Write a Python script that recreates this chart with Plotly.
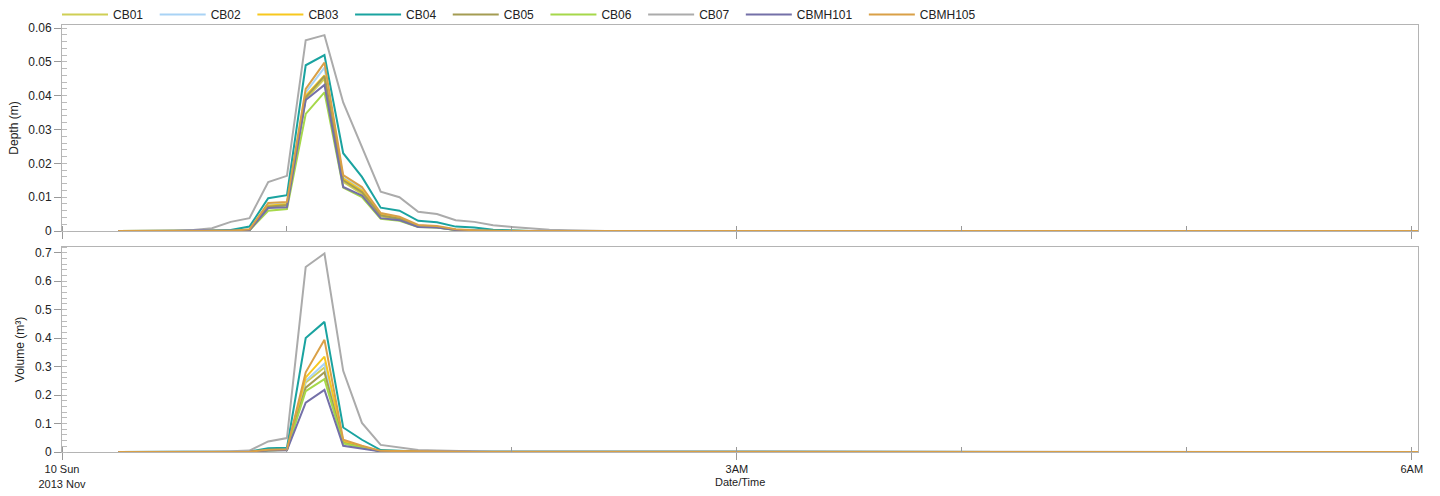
import pandas as pd
import plotly.graph_objects as go
from plotly.subplots import make_subplots

# ---- data (5-minute steps starting 2013-11-10 00:15) ----
start_time = "2013-11-10 00:15"
n_points = 71  # to 06:05

series_names = ["CB01", "CB02", "CB03", "CB04", "CB05", "CB06", "CB07", "CBMH101", "CBMH105"]
colors = ["#cfcf55", "#a9d3f5", "#f7c81e", "#1aa3a0", "#a49c52", "#a6d84a", "#ababab", "#7470a8", "#d9a047"]

# Depth (m), 00:15 .. 02:15; afterwards ~0
depth_peak = {
    "CB01":    [0, 0, 0, 0, 0, 0, 0, 0.0002, 0.0070, 0.0075, 0.0390, 0.0450, 0.0145, 0.0110, 0.0044, 0.0034, 0.0013, 0.0011, 0.0003, 0.0001, 0, 0, 0, 0, 0],
    "CB02":    [0, 0, 0, 0, 0, 0, 0, 0.0003, 0.0078, 0.0082, 0.0410, 0.0483, 0.0158, 0.0125, 0.0050, 0.0040, 0.0016, 0.0013, 0.0004, 0.0002, 0, 0, 0, 0, 0],
    "CB03":    [0, 0, 0, 0, 0, 0, 0, 0.0003, 0.0075, 0.0080, 0.0400, 0.0460, 0.0155, 0.0120, 0.0048, 0.0038, 0.0015, 0.0012, 0.0004, 0.0001, 0, 0, 0, 0, 0],
    "CB04":    [0, 0, 0, 0, 0, 0, 0.0003, 0.0013, 0.0097, 0.0106, 0.0490, 0.0520, 0.0230, 0.0160, 0.0069, 0.0060, 0.0030, 0.0026, 0.0013, 0.0010, 0.0004, 0.0001, 0, 0, 0],
    "CB05":    [0, 0, 0, 0, 0, 0, 0, 0.0003, 0.0072, 0.0077, 0.0395, 0.0458, 0.0150, 0.0115, 0.0046, 0.0036, 0.0014, 0.0011, 0.0004, 0.0001, 0, 0, 0, 0, 0],
    "CB06":    [0, 0, 0, 0, 0, 0, 0, 0.0002, 0.0060, 0.0065, 0.0346, 0.0410, 0.0128, 0.0100, 0.0036, 0.0030, 0.0012, 0.0010, 0.0003, 0.0001, 0, 0, 0, 0, 0],
    "CB07":    [0, 0, 0, 0, 0.0003, 0.0008, 0.0027, 0.0038, 0.0145, 0.0163, 0.0564, 0.0579, 0.0380, 0.0248, 0.0116, 0.0100, 0.0057, 0.0050, 0.0032, 0.0027, 0.0017, 0.0012, 0.0007, 0.0004, 0.0002],
    "CBMH101": [0, 0, 0, 0, 0, 0, 0, 0.0002, 0.0068, 0.0070, 0.0387, 0.0432, 0.0130, 0.0105, 0.0038, 0.0032, 0.0012, 0.0010, 0.0003, 0.0001, 0, 0, 0, 0, 0],
    "CBMH105": [0, 0, 0, 0, 0, 0, 0, 0.0005, 0.0083, 0.0086, 0.0420, 0.0498, 0.0165, 0.0130, 0.0053, 0.0042, 0.0018, 0.0015, 0.0005, 0.0002, 0, 0, 0, 0, 0],
}

# Volume (m³), 00:15 .. 02:15; afterwards ~0
volume_peak = {
    "CB01":    [0, 0, 0, 0, 0, 0, 0, 0.001, 0.006, 0.008, 0.244, 0.297, 0.034, 0.017, 0.003, 0.002, 0.001, 0, 0, 0, 0, 0, 0, 0, 0],
    "CB02":    [0, 0, 0, 0, 0, 0, 0, 0.001, 0.007, 0.009, 0.250, 0.310, 0.036, 0.018, 0.003, 0.002, 0.001, 0, 0, 0, 0, 0, 0, 0, 0],
    "CB03":    [0, 0, 0, 0, 0, 0, 0, 0.001, 0.007, 0.009, 0.262, 0.335, 0.038, 0.019, 0.003, 0.002, 0.001, 0, 0, 0, 0, 0, 0, 0, 0],
    "CB04":    [0, 0, 0, 0, 0, 0.001, 0.001, 0.002, 0.013, 0.015, 0.400, 0.457, 0.086, 0.043, 0.007, 0.004, 0.002, 0.001, 0.001, 0, 0, 0, 0, 0, 0],
    "CB05":    [0, 0, 0, 0, 0, 0, 0, 0.001, 0.006, 0.008, 0.226, 0.280, 0.032, 0.016, 0.003, 0.002, 0.001, 0, 0, 0, 0, 0, 0, 0, 0],
    "CB06":    [0, 0, 0, 0, 0, 0, 0, 0.001, 0.005, 0.007, 0.214, 0.256, 0.030, 0.015, 0.002, 0.001, 0.001, 0, 0, 0, 0, 0, 0, 0, 0],
    "CB07":    [0, 0, 0, 0, 0.001, 0.002, 0.003, 0.005, 0.037, 0.049, 0.650, 0.697, 0.285, 0.102, 0.025, 0.017, 0.007, 0.005, 0.003, 0.002, 0.001, 0.001, 0.001, 0, 0],
    "CBMH101": [0, 0, 0, 0, 0, 0, 0, 0.001, 0.005, 0.006, 0.173, 0.218, 0.022, 0.012, 0.002, 0.001, 0.001, 0, 0, 0, 0, 0, 0, 0, 0],
    "CBMH105": [0, 0, 0, 0, 0, 0, 0, 0.001, 0.008, 0.010, 0.280, 0.394, 0.043, 0.022, 0.004, 0.003, 0.001, 0.001, 0, 0, 0, 0, 0, 0, 0],
}

x_tick_vals = ["2013-11-10 00:00", "2013-11-10 03:00", "2013-11-10 06:00"]
x_tick_text = ["10 Sun<br>2013 Nov", "3AM", "6AM"]
x_range = ["2013-11-10 00:00", "2013-11-10 06:01:40"]

# ---- build ----
times = pd.date_range(start_time, periods=n_points, freq="5min")
n_tail = n_points - len(depth_peak["CB01"])

def full(vals):
    return list(vals) + [0.0] * n_tail

FONT = "Liberation Sans, Arial, sans-serif"
W, H = 1440, 496
ML, MR, MT, MB = 57, 22, 0, 44
pw, ph = W - ML - MR, H - MT - MB

def fy(px):  # pixel row -> paper fraction
    return (H - MB - px) / ph

x_dom = [5 / pw, 1.0]

fig = make_subplots(rows=2, cols=1, shared_xaxes=True)

pad = "\u00a0\u00a0"
for name, col in zip(series_names, colors):
    fig.add_trace(go.Scatter(x=times, y=full(depth_peak[name]), name=name + pad, mode="lines",
                             line=dict(color=col, width=2), legendgroup=name), row=1, col=1)
for name, col in zip(series_names, colors):
    fig.add_trace(go.Scatter(x=times, y=full(volume_peak[name]), name=name + pad, mode="lines",
                             line=dict(color=col, width=2), legendgroup=name, showlegend=False), row=2, col=1)

axis_common = dict(showline=True, linecolor="#b4b4b4", linewidth=1, mirror=True, automargin=False,
                   showgrid=False, zeroline=False, ticks="outside", ticklen=7, tickcolor="#999999",
                   tickfont=dict(family=FONT, size=12, color="#222222"))

fig.update_xaxes(**axis_common, type="date", range=x_range, tickvals=x_tick_vals, domain=x_dom,
                 minor=dict(dtick=3600000, ticks="inside", ticklen=5, tickcolor="#999999"))
fig.update_xaxes(ticktext=x_tick_text, showticklabels=False, row=1, col=1)
fig.update_xaxes(ticktext=x_tick_text, showticklabels=True, tickfont=dict(size=11), row=2, col=1)

fig.update_yaxes(**axis_common, tickformat="~g", minor=dict(ticks="inside", ticklen=5, tickcolor="#bbbbbb"))
fig.update_yaxes(range=[0, 0.0609], dtick=0.01, domain=[fy(231), fy(25)], row=1, col=1,
                 title=dict(text="Depth (m)", standoff=7, font=dict(family=FONT, size=12, color="#222222")))
fig.update_yaxes(range=[0, 0.72], dtick=0.1, domain=[fy(452), fy(247)], row=2, col=1,
                 title=dict(text="Volume (m³)", standoff=7, font=dict(family=FONT, size=12, color="#222222")))

fig.add_annotation(text="Date/Time", xref="paper", yref="paper", x=(x_dom[0] + 1) / 2, y=fy(482),
                   xanchor="center", yanchor="middle", showarrow=False,
                   font=dict(family=FONT, size=11, color="#222222"))

fig.update_layout(
    width=W, height=H,
    margin=dict(l=ML, r=MR, t=MT, b=MB),
    plot_bgcolor="white", paper_bgcolor="white",
    font=dict(family=FONT, size=12, color="#222222"),
    legend=dict(orientation="h", x=0, xanchor="left", y=1.0, yanchor="top",
                bgcolor="rgba(0,0,0,0)", font=dict(size=12), itemwidth=46, tracegroupgap=0),
)

fig.write_html("out.html", config={"displayModeBar": False},
               post_script="document.body.style.margin='0';")
